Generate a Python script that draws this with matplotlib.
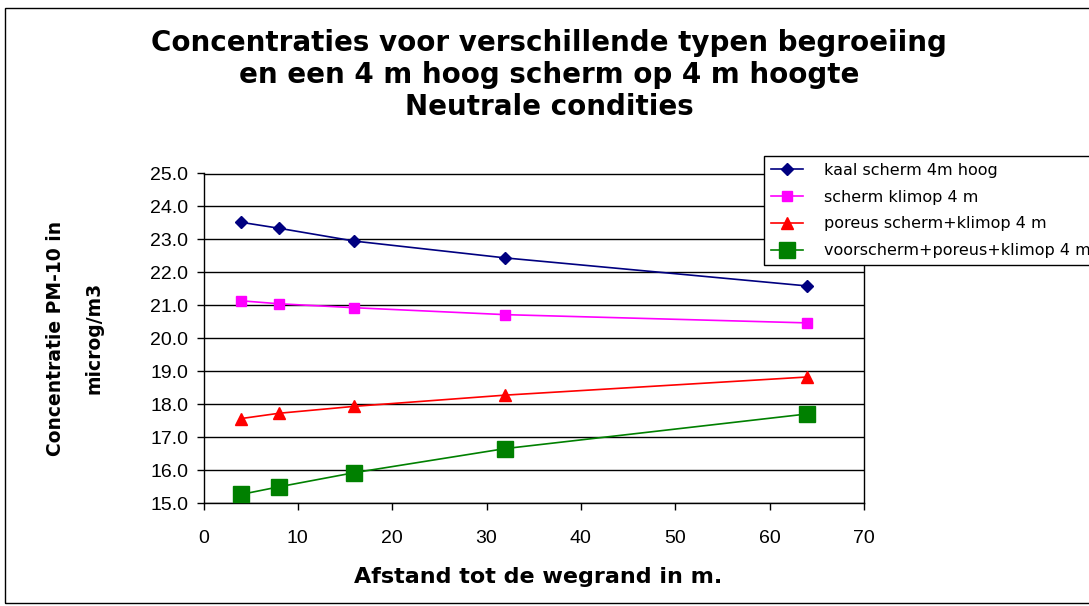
import matplotlib
matplotlib.use("Agg")
import matplotlib.pyplot as plt
from matplotlib.patches import Rectangle

plt.rcParams['font.family'] = ['Liberation Sans', 'DejaVu Sans']

afstand = [4, 8, 16, 32, 64]
kaal_scherm = [23.52, 23.34, 22.95, 22.44, 21.59]
scherm_klimop = [21.14, 21.05, 20.93, 20.72, 20.47]
poreus_klimop = [17.57, 17.73, 17.94, 18.28, 18.83]
voorscherm = [15.27, 15.50, 15.93, 16.66, 17.71]

series_labels = ["kaal scherm 4m hoog", "scherm klimop 4 m",
                 "poreus scherm+klimop 4 m", "voorscherm+poreus+klimop 4 m"]
x_ticks = [0, 10, 20, 30, 40, 50, 60, 70]
y_ticks = [15.0, 16.0, 17.0, 18.0, 19.0, 20.0, 21.0, 22.0, 23.0, 24.0, 25.0]

WIDE = ['DejaVu Sans']

W, H = 1089, 606
fig = plt.figure(figsize=(W / 100, H / 100), dpi=100)
fig.patch.set_facecolor('white')

# outer chart border
fig.patches.append(Rectangle((5 / W, 3 / H), 1.2, (H - 11) / H, transform=fig.transFigure,
                             fill=False, edgecolor='black', linewidth=1.0, clip_on=False))

ax = fig.add_axes([203.5 / W, 1 - 503.3 / H, (864 - 203.5) / W, (503.3 - 173.5) / H])

styles = [
    dict(color='#000080', marker='D', markersize=6.5),
    dict(color='#FF00FF', marker='s', markersize=7),
    dict(color='#FF0000', marker='^', markersize=8.5),
    dict(color='#008000', marker='s', markersize=11.5),
]
for ys, lab, st in zip([kaal_scherm, scherm_klimop, poreus_klimop, voorscherm],
                       series_labels, styles):
    ax.plot(afstand, ys, label=lab, linewidth=1.2, color=st['color'],
            marker=st['marker'], markersize=st['markersize'],
            markerfacecolor=st['color'], markeredgecolor=st['color'], zorder=3)

ax.set_xlim(0, 70)
ax.set_ylim(15, 25)
ax.set_xticks(x_ticks)
ax.set_yticks(y_ticks)
ax.set_yticklabels([f"{v:.1f}" for v in y_ticks])
ax.tick_params(axis='both', labelsize=14, direction='out', length=5, width=1, colors='black')
ax.tick_params(axis='x', pad=14)
ax.tick_params(axis='y', pad=6)
ax.yaxis.grid(True, color='black', linewidth=1.0)
ax.set_axisbelow(True)
for sp in ax.spines.values():
    sp.set_color('black')
    sp.set_linewidth(1.0)

fig.text(549 / W, 1 - 75 / H,
         "Concentraties voor verschillende typen begroeiing\nen een 4 m hoog scherm op 4 m hoogte\nNeutrale condities",
         ha='center', va='center', fontsize=20, fontweight='bold', linespacing=1.17,
         family=WIDE)

fig.text(56 / W, 1 - 338 / H, "Concentratie PM-10 in", rotation=90,
         ha='center', va='center', fontsize=13.5, fontweight='bold', family=WIDE)
fig.text(94 / W, 1 - 338 / H, "microg/m3", rotation=90,
         ha='center', va='center', fontsize=13.5, fontweight='bold', family=WIDE)
fig.text(538 / W, 1 - 577 / H, "Afstand tot de wegrand in m.",
         ha='center', va='center', fontsize=16, fontweight='bold', family=WIDE)

leg = ax.legend(loc='upper left', bbox_to_anchor=(764 / W, 1 - 155.5 / H),
                bbox_transform=fig.transFigure, frameon=True,
                prop={'family': WIDE, 'size': 11.5},
                fancybox=False, edgecolor='black', framealpha=1,
                borderpad=0.45, labelspacing=0.74, handlelength=2.0, handletextpad=1.3,
                borderaxespad=0)
leg.get_frame().set_linewidth(1.0)
leg.set_clip_on(False)

fig.savefig("out.png", dpi=100, facecolor='white')
